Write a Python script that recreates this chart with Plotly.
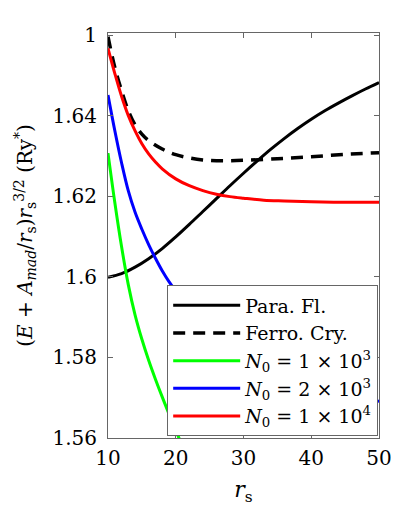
import plotly.graph_objects as go

# Para. Fl. (black solid)
x_para = [10, 12, 14, 16, 18, 20, 22, 24, 26, 28, 30, 32, 34, 36, 38, 40, 42, 44, 46, 48, 50]
y_para = [1.5999, 1.6008, 1.6024, 1.6045, 1.6070, 1.6099, 1.6130, 1.6162, 1.6194, 1.6226,
          1.6257, 1.6287, 1.6316, 1.6343, 1.6368, 1.6391, 1.6412, 1.6431, 1.6449, 1.6466, 1.6482]

# Ferro. Cry. (black dashed)
x_ferro = [10, 11, 12, 13, 14, 15, 16, 18, 20, 22, 24, 26, 28, 30, 35, 40, 45, 50]
y_ferro = [1.6596, 1.6520, 1.6462, 1.6412, 1.6377, 1.6354, 1.6338, 1.6317, 1.6303, 1.6295,
           1.6290, 1.6288, 1.6288, 1.6289, 1.6293, 1.6298, 1.6304, 1.6308]

# N0 = 1e3 (green)
x_n1 = [10, 11, 12, 13, 14, 15, 16, 17, 18, 19, 20, 21, 22, 24]
y_n1 = [1.6307, 1.6185, 1.6075, 1.5980, 1.5905, 1.5845, 1.5793, 1.5746, 1.5702, 1.5660,
        1.5619, 1.5579, 1.5540, 1.5470]

# N0 = 2e3 (blue)
x_n2 = [10, 11, 12, 13, 14, 15, 16, 17, 18, 19, 20, 22, 25, 30, 35, 40, 45, 50]
y_n2 = [1.6451, 1.6363, 1.6283, 1.6213, 1.6160, 1.6118, 1.6080, 1.6046, 1.6015, 1.5988,
        1.5965, 1.5925, 1.5870, 1.5800, 1.5752, 1.5720, 1.5701, 1.5691]

# N0 = 1e4 (red)
x_n3 = [10, 11, 12, 13, 14, 15, 16, 17, 18, 20, 22, 24, 26, 28, 30, 33, 36, 40, 45, 50]
y_n3 = [1.6567, 1.6505, 1.6448, 1.6400, 1.6362, 1.6330, 1.6305, 1.6285, 1.6268, 1.6243,
        1.6226, 1.6214, 1.6205, 1.6199, 1.6195, 1.6190, 1.6188, 1.6186, 1.6185, 1.6185]

y_tickvals = [1.56, 1.58, 1.60, 1.62, 1.64, 1.66]
y_ticktext = ["1.56", "1.58", "1.6", "1.62", "1.64", "1"]
x_tickvals = [10, 20, 30, 40, 50]

names = ["Para. Fl.", "Ferro. Cry.",
         "<i>N</i><sub>0</sub> = 1 × 10<sup>3</sup>",
         "<i>N</i><sub>0</sub> = 2 × 10<sup>3</sup>",
         "<i>N</i><sub>0</sub> = 1 × 10<sup>4</sup>"]

FONT = "DejaVu Serif"

fig = go.Figure()
fig.add_trace(go.Scatter(x=x_para, y=y_para, mode="lines", name=names[0],
                         line=dict(color="black", width=3, shape="spline")))
fig.add_trace(go.Scatter(x=x_ferro, y=y_ferro, mode="lines", name=names[1],
                         line=dict(color="black", width=3.5, dash="12px,8px", shape="spline")))
fig.add_trace(go.Scatter(x=x_n1, y=y_n1, mode="lines", name=names[2],
                         line=dict(color="#00ff00", width=3, shape="spline")))
fig.add_trace(go.Scatter(x=x_n2, y=y_n2, mode="lines", name=names[3],
                         line=dict(color="#0000ff", width=3, shape="spline")))
fig.add_trace(go.Scatter(x=x_n3, y=y_n3, mode="lines", name=names[4],
                         line=dict(color="#ff0000", width=3, shape="spline")))

fig.update_layout(
    width=383, height=508,
    margin=dict(l=100, r=12, t=25, b=78),
    paper_bgcolor="white", plot_bgcolor="white",
    font=dict(family=FONT, size=20, color="black"),
    showlegend=True,
    legend=dict(x=0.997, y=0.004, xanchor="right", yanchor="bottom",
                bgcolor="white", bordercolor="#666666", borderwidth=1,
                font=dict(family=FONT, size=19), itemwidth=67,
                tracegroupgap=0),
)
fig.update_xaxes(range=[10, 50], tickvals=x_tickvals, ticks="inside", ticklen=5,
                 tickcolor="#666666", showline=True, linecolor="#666666", linewidth=1,
                 mirror="ticks", showgrid=False, zeroline=False, automargin=False,
                 tickfont=dict(family=FONT, size=20), ticklabelstandoff=2,
                 ticklabeloverflow="allow",
                 title=dict(text="<i>r</i><sub>s</sub>", font=dict(family=FONT, size=22), standoff=12))
fig.update_yaxes(range=[1.56, 1.6605], tickvals=y_tickvals, ticktext=y_ticktext,
                 ticks="inside", ticklen=5, ticklabelstandoff=6,
                 tickcolor="#666666", showline=True, linecolor="#666666", linewidth=1,
                 mirror="ticks", showgrid=False, zeroline=False, automargin=False,
                 tickfont=dict(family=FONT, size=20), ticklabeloverflow="allow",
                 title=dict(text="(<i>E</i> + <i>A</i><sub><i>mad</i></sub>/<i>r</i><sub>s</sub>)<i>r</i><sub>s</sub><sup>3/2</sup> (Ry<sup>*</sup>)",
                            font=dict(family=FONT, size=20), standoff=14))

fig.write_html("out.html")
